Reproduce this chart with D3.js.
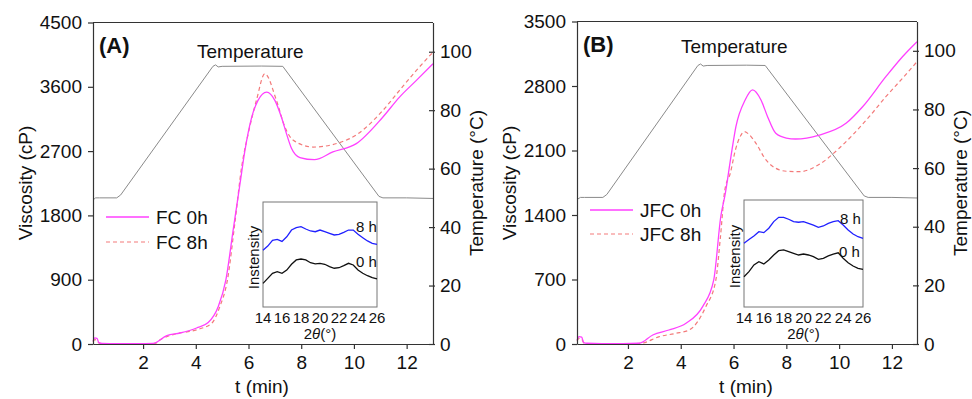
<!DOCTYPE html>
<html>
<head>
<meta charset="utf-8">
<script src="https://cdn.jsdelivr.net/npm/d3@7"></script>
<style>
  body { margin: 0; background: #fff; }
  text { font-family: Arial, "Liberation Sans", sans-serif; fill: #111; }
</style>
</head>
<body>
<script>
const W = 972, H = 399

// ---- panel A: FC ----
const fc0T = [0.1, 0.17, 0.25, 0.32, 0.45, 1, 1.8, 2.38, 2.9, 3.4, 4.03, 4.47, 4.85, 5.14, 5.42, 5.68, 5.86, 6.12, 6.36, 6.69, 7.0, 7.25, 7.44, 7.63, 7.95, 8.5, 9.2, 10.09, 11.1, 11.73, 12.37, 13]
const fc0V = [40, 85, 80, 20, 8, 5, 5, 8, 116, 154, 224, 300, 521, 895, 1600, 2250, 2700, 3173, 3410, 3526, 3410, 3173, 2945, 2740, 2610, 2580, 2688, 2805, 3178, 3456, 3690, 3923]
const fc8T = [0.1, 0.17, 0.25, 0.32, 0.45, 1, 1.8, 2.45, 2.65, 3.14, 4.05, 4.6, 4.91, 5.2, 5.48, 5.74, 5.99, 6.3, 6.62, 7.06, 7.38, 7.7, 8.45, 9.84, 11.1, 11.73, 12.37, 13]
const fc8V = [30, 60, 55, 15, 5, 3, 3, 8, 60, 132, 201, 289, 521, 895, 1687, 2479, 2945, 3410, 3783, 3410, 3038, 2851, 2757, 2875, 3270, 3550, 3830, 4085]
const tempAT = [0.1, 0.2, 0.35, 1.0, 1.15, 4.65, 4.75, 4.85, 5.0, 6.5, 7.3, 10.95, 11.1, 12, 13]
const tempAV = [49.3, 50, 50, 50, 51, 95, 95.5, 94.8, 95, 95.1, 95, 50.5, 50, 50, 49.8]

// ---- panel B: JFC ----
const jfc0T = [0.07, 0.15, 0.25, 0.32, 0.45, 1, 1.8, 2.42, 2.94, 3.55, 4.2, 4.83, 5.25, 5.52, 5.68, 5.94, 6.09, 6.44, 6.72, 7.04, 7.29, 7.6, 8.0, 8.35, 9.25, 10.26, 10.89, 11.77, 12.4, 12.95]
const jfc0V = [40, 80, 75, 15, 8, 5, 5, 8, 98, 152, 225, 405, 695, 1389, 1620, 2105, 2358, 2648, 2757, 2648, 2467, 2287, 2235, 2225, 2268, 2395, 2575, 2901, 3118, 3281]
const jfc8T = [0.07, 0.15, 0.25, 0.32, 0.45, 1, 1.8, 2.5, 3.19, 3.8, 4.32, 4.95, 5.33, 5.5, 5.67, 5.88, 6.07, 6.25, 6.41, 6.6, 6.85, 7.23, 7.6, 8.0, 8.5, 9.25, 10.0, 10.51, 11.14, 11.77, 12.4, 12.95]
const jfc8V = [30, 60, 55, 15, 5, 3, 3, 8, 80, 115, 152, 405, 695, 1150, 1671, 1856, 2105, 2250, 2305, 2270, 2178, 1997, 1907, 1875, 1870, 1950, 2124, 2268, 2467, 2684, 2884, 3064]
const tempBT = [0.07, 0.2, 0.35, 1.05, 1.2, 4.65, 4.75, 4.85, 5.0, 6.5, 7.2, 10.95, 11.1, 12, 12.95]
const tempBV = [49.3, 50, 50, 50, 51, 95, 95.5, 94.8, 95, 95.1, 95, 50.5, 50, 50, 49.8]

// ---- XRD insets (2theta, arbitrary intensity) ----
const twoTheta = [14, 14.5, 15, 15.5, 16, 16.5, 17, 17.5, 18, 18.5, 19, 19.5, 20, 20.5, 21, 21.5, 22, 22.5, 23, 23.5, 24, 24.5, 25, 25.5, 26]
const xrdA8 = [54, 58, 63.5, 64.4, 62.5, 66.9, 73.3, 75.5, 76.5, 74.3, 72.4, 71.7, 73.3, 71.7, 70.2, 68.6, 69.2, 71.1, 73.3, 73.3, 69.2, 66, 62.9, 60.7, 59.7]
const xrdA0 = [22.5, 27.3, 32.1, 33.6, 32.1, 35.2, 40.7, 44.8, 45.7, 44.8, 42.2, 41, 41.6, 40.7, 38.4, 36.9, 37.4, 39.4, 41.6, 40, 35.2, 32.1, 29.8, 27.9, 26.7]
const xrdB8 = [59.5, 63, 66.4, 70.4, 69.5, 73.6, 79.8, 83.8, 83.8, 82, 79.8, 79.2, 79.8, 78.2, 76.6, 74.5, 75.7, 78.2, 79.8, 80.7, 76.6, 72, 68.2, 65.7, 64.2]
const xrdB0 = [28.3, 33, 39.3, 42.3, 40.2, 43.9, 48.6, 52.6, 53.3, 51.7, 50.2, 48.6, 49.5, 48.6, 47, 44.6, 45.5, 47.7, 49.5, 50.7, 45.5, 41.4, 38.3, 36.1, 35.2]

const tTicks = [2, 4, 6, 8, 10, 12]
const viscTicksA = [0, 900, 1800, 2700, 3600, 4500]
const viscTicksB = [0, 700, 1400, 2100, 2800, 3500]
const tempTicks = [0, 20, 40, 60, 80, 100]
const xrdTicks = [14, 16, 18, 20, 22, 24, 26]

const AXIS = '#333', C0 = '#ff40ff', C8 = '#f37a7a', CT = '#8a8a8a'

const svg = d3.select('body').append('svg').attr('width', W).attr('height', H)
svg.append('rect').attr('width', W).attr('height', H).attr('fill', '#fff')

function zip(a, b) { return a.map((v, i) => [v, b[i]]) }

function panel(o) {
    const g = svg.append('g')
    const x = d3.scaleLinear().domain(o.tDom).range([o.L, o.R])
    const yV = d3.scaleLinear().domain([0, o.vTicks[o.vTicks.length - 1]]).range([o.B, o.T])
    const yT = d3.scaleLinear().domain([0, 110]).range([o.B, o.T])

    const line = d3.line().x(d => x(d[0])).y(d => yV(d[1])).curve(d3.curveMonotoneX)
    const tline = d3.line().x(d => x(d[0])).y(d => yT(d[1]))

    g.append('path').attr('d', tline(zip(o.tempT, o.tempV)))
        .attr('fill', 'none').attr('stroke', CT).attr('stroke-width', 1)
    g.append('path').attr('d', line(zip(o.s8T, o.s8V)))
        .attr('fill', 'none').attr('stroke', C8).attr('stroke-width', 1.2).attr('stroke-dasharray', '4,3')
    g.append('path').attr('d', line(zip(o.s0T, o.s0V)))
        .attr('fill', 'none').attr('stroke', C0).attr('stroke-width', 1.3)

    // axes
    const fmt = d3.format('d')
    const ax = g.append('g').attr('transform', `translate(0,${o.B})`)
        .call(d3.axisBottom(x).tickValues(tTicks).tickFormat(fmt).tickSize(5).tickSizeOuter(0).tickPadding(7))
    const ay = g.append('g').attr('transform', `translate(${o.L},0)`)
        .call(d3.axisLeft(yV).tickValues(o.vTicks).tickFormat(fmt).tickSize(5).tickSizeOuter(0).tickPadding(6))
    const ar = g.append('g').attr('transform', `translate(${o.R},0)`)
        .call(d3.axisRight(yT).tickValues(tempTicks).tickFormat(fmt).tickSize(2).tickSizeOuter(0).tickPadding(5))
    ar.selectAll('.tick line').attr('x1', -4)
    for (const a of [ax, ay, ar]) {
        a.select('.domain').attr('stroke', AXIS).attr('stroke-width', 1.2)
        a.selectAll('.tick line').attr('stroke', AXIS).attr('stroke-width', 1.2)
        a.selectAll('text').attr('font-size', 19).attr('fill', '#111')
            .attr('font-family', 'Arial, "Liberation Sans", sans-serif')
    }
    g.append('line').attr('x1', o.L).attr('x2', o.R).attr('y1', o.T).attr('y2', o.T)
        .attr('stroke', AXIS).attr('stroke-width', 1.2)

    // titles
    g.append('text').attr('x', (o.L + o.R) / 2 - 1).attr('y', 393).attr('text-anchor', 'middle')
        .attr('font-size', 19).text('t (min)')
    g.append('text').attr('transform', `translate(${o.L - 61},183) rotate(-90)`).attr('text-anchor', 'middle')
        .attr('font-size', 19).text('Viscosity (cP)')
    g.append('text').attr('transform', `translate(${o.R + 50},183) rotate(-90)`).attr('text-anchor', 'middle')
        .attr('font-size', 19).text('Temperature (°C)')
    g.append('text').attr('x', o.L + 6).attr('y', o.T + 30).attr('font-size', 22).attr('font-weight', 'bold').text(o.tag)
    g.append('text').attr('x', o.tempLbl[0]).attr('y', o.tempLbl[1]).attr('font-size', 19).text('Temperature')

    // legend
    const lg = g.append('g')
    lg.append('line').attr('x1', o.leg[0]).attr('x2', o.leg[0] + 43).attr('y1', o.leg[1]).attr('y2', o.leg[1])
        .attr('stroke', C0).attr('stroke-width', 1.3)
    lg.append('line').attr('x1', o.leg[0]).attr('x2', o.leg[0] + 43).attr('y1', o.leg[1] + o.leg[2]).attr('y2', o.leg[1] + o.leg[2])
        .attr('stroke', C8).attr('stroke-width', 1.2).attr('stroke-dasharray', '4,3')
    lg.append('text').attr('x', o.leg[0] + 50).attr('y', o.leg[1] + 7).attr('font-size', 19).text(o.names[0])
    lg.append('text').attr('x', o.leg[0] + 50).attr('y', o.leg[1] + o.leg[2] + 7).attr('font-size', 19).text(o.names[1])

    // inset XRD
    const ib = o.inset
    const ix = d3.scaleLinear().domain([14, 26]).range([ib[0], ib[1]])
    const iy = d3.scaleLinear().domain([0, 100]).range([ib[3], ib[2]])
    const ig = g.append('g')
    ig.append('rect').attr('x', ib[0]).attr('y', ib[2]).attr('width', ib[1] - ib[0]).attr('height', ib[3] - ib[2])
        .attr('fill', '#fff').attr('stroke', '#777').attr('stroke-width', 1)
    const il = d3.line().x(d => ix(d[0])).y(d => iy(d[1]))
    ig.append('path').attr('d', il(zip(twoTheta, o.x8))).attr('fill', 'none').attr('stroke', '#2020ff').attr('stroke-width', 1.3)
    ig.append('path').attr('d', il(zip(twoTheta, o.x0))).attr('fill', 'none').attr('stroke', '#111').attr('stroke-width', 1.3)
    ig.selectAll('.xt').data(xrdTicks).join('text').attr('class', 'xt')
        .attr('x', d => ix(d)).attr('y', ib[3] + 16).attr('text-anchor', 'middle').attr('font-size', 15).text(d => d)
    const xl = ig.append('text').attr('x', (ib[0] + ib[1]) / 2).attr('y', ib[3] + 32).attr('text-anchor', 'middle').attr('font-size', 15)
    xl.append('tspan').text('2')
    xl.append('tspan').attr('font-style', 'italic').text('θ')
    xl.append('tspan').text('(°)')
    ig.append('text').attr('transform', `translate(${ib[0] - 4},${(ib[2] + ib[3]) / 2 + 3}) rotate(-90)`)
        .attr('text-anchor', 'middle').attr('font-size', 15).text('Instensity')
    ig.append('text').attr('x', o.lbl8[0]).attr('y', o.lbl8[1]).attr('font-size', 15).text('8 h')
    ig.append('text').attr('x', o.lbl0[0]).attr('y', o.lbl0[1]).attr('font-size', 15).text('0 h')
}

panel({
    L: 93, R: 433, T: 22.5, B: 344, tDom: [0.1, 13], vTicks: viscTicksA, tag: '(A)',
    s0T: fc0T, s0V: fc0V, s8T: fc8T, s8V: fc8V, tempT: tempAT, tempV: tempAV,
    tempLbl: [197, 58], leg: [106, 217, 25], names: ['FC 0h', 'FC 8h'],
    inset: [263, 377, 202, 307], x8: xrdA8, x0: xrdA0, lbl8: [356, 232], lbl0: [356, 267]
})
panel({
    L: 577, R: 917, T: 21.5, B: 344, tDom: [0.07, 12.95], vTicks: viscTicksB, tag: '(B)',
    s0T: jfc0T, s0V: jfc0V, s8T: jfc8T, s8V: jfc8V, tempT: tempBT, tempV: tempBV,
    tempLbl: [681, 53], leg: [590, 210, 24], names: ['JFC 0h', 'JFC 8h'],
    inset: [744, 863, 200, 307], x8: xrdB8, x0: xrdB0, lbl8: [840, 224], lbl0: [839, 257]
})
</script>
</body>
</html>
